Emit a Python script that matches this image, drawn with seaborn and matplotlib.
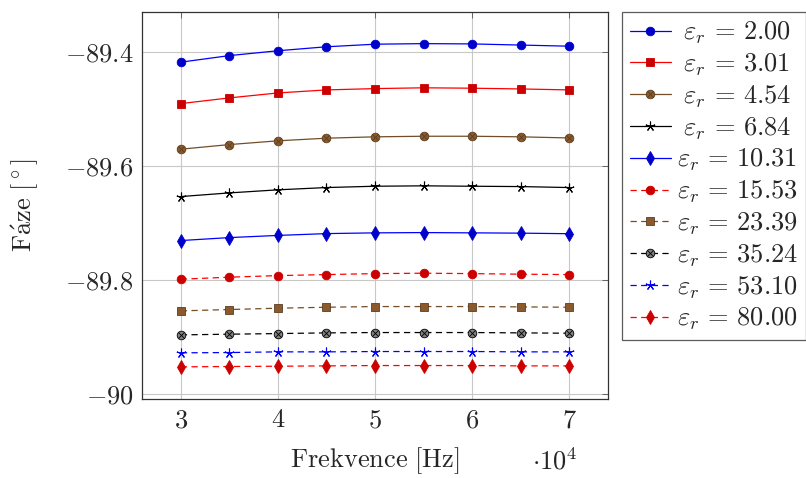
import numpy as np
import pandas as pd
import matplotlib
matplotlib.use("Agg")
import matplotlib.pyplot as plt
import seaborn as sns
from matplotlib.ticker import FuncFormatter, FixedLocator
from matplotlib.legend_handler import HandlerTuple

sns.set_style("white")
plt.rcParams["mathtext.fontset"] = "cm"
plt.rcParams["font.family"] = ["DejaVu Serif"]

freq = [30000, 35000, 40000, 45000, 50000, 55000, 60000, 65000, 70000]
eps_labels = ["2.00", "3.01", "4.54", "6.84", "10.31", "15.53", "23.39", "35.24", "53.10", "80.00"]

phase_2_00 = [-89.418, -89.4065, -89.398, -89.391, -89.3865, -89.3855, -89.386, -89.388, -89.390]
phase_3_01 = [-89.4907, -89.4807, -89.472, -89.4667, -89.4644, -89.463, -89.4637, -89.465, -89.4667]
phase_4_54 = [-89.5707, -89.5626, -89.556, -89.5514, -89.549, -89.548, -89.548, -89.549, -89.551]
phase_6_84 = [-89.6538, -89.6474, -89.642, -89.638, -89.6357, -89.635, -89.6357, -89.6363, -89.638]
phase_10_31 = [-89.731, -89.7258, -89.722, -89.7188, -89.7175, -89.717, -89.7175, -89.718, -89.719]
phase_15_53 = [-89.7988, -89.7953, -89.7925, -89.7907, -89.789, -89.7883, -89.789, -89.790, -89.7907]
phase_23_39 = [-89.8544, -89.852, -89.8497, -89.848, -89.8468, -89.8468, -89.8468, -89.8474, -89.848]
phase_35_24 = [-89.8965, -89.8953, -89.8942, -89.893, -89.8924, -89.8924, -89.8924, -89.893, -89.8936]
phase_53_10 = [-89.928, -89.9275, -89.9263, -89.9263, -89.9257, -89.9257, -89.9257, -89.9263, -89.9263]
phase_80_00 = [-89.9526, -89.952, -89.9515, -89.9509, -89.9503, -89.9503, -89.9503, -89.9509, -89.9509]

series = [phase_2_00, phase_3_01, phase_4_54, phase_6_84, phase_10_31,
          phase_15_53, phase_23_39, phase_35_24, phase_53_10, phase_80_00]

brown = "#734d26"
star = (5, 2, 0)
styles = [
    dict(color="#0000ff", marker="o", mfc="#0000cc", mec="#0000cc", ms=6.2, ls="-"),
    dict(color="#ff0000", marker="s", mfc="#cc0000", mec="#cc0000", ms=5.6, ls="-"),
    dict(color=brown, marker="o", mfc="#8a5a2e", mec="#5c3d1f", ms=6.2, ls="-", otimes=True),
    dict(color="#000000", marker=star, mfc="none", mec="#000000", ms=7, ls="-"),
    dict(color="#0000ff", marker="d", mfc="#0000cc", mec="#0000cc", ms=6.8, ls="-"),
    dict(color="#ff0000", marker="o", mfc="#cc0000", mec="#cc0000", ms=6.2, ls="--"),
    dict(color=brown, marker="s", mfc="#8a5a2e", mec="#5c3d1f", ms=5.6, ls="--"),
    dict(color="#000000", marker="o", mfc="#808080", mec="#000000", ms=6.2, ls="--", otimes=True),
    dict(color="#0000ff", marker=star, mfc="none", mec="#0000ff", ms=7, ls="--"),
    dict(color="#ff0000", marker="d", mfc="#cc0000", mec="#cc0000", ms=6.8, ls="--"),
]

W, H = 806, 478
fig = plt.figure(figsize=(W / 100, H / 100), dpi=100)
ax = fig.add_axes([142 / W, 1 - 399 / H, (608 - 142) / W, (399 - 12) / H])

handles = []
labels = []
for vals, lab, st in zip(series, eps_labels, styles):
    df = pd.DataFrame({"f": freq, "phi": vals})
    n_before = len(ax.lines)
    kw = dict(color=st["color"], marker=st["marker"], markerfacecolor=st["mfc"],
              markeredgecolor=st["mec"], markersize=st["ms"], linewidth=0.9,
              markeredgewidth=0.6 if st["marker"] != star else 0.8)
    if st["ls"] == "--":
        kw["dashes"] = (5, 3.5)
    sns.lineplot(data=df, x="f", y="phi", ax=ax, errorbar=None, sort=False, **kw)
    line = ax.lines[n_before]
    h = line
    if st.get("otimes"):
        xl, = ax.plot(freq, vals, linestyle="none", marker="x", markersize=st["ms"] * 0.6,
                      markeredgecolor=st["mec"], markeredgewidth=0.6)
        h = (line, xl)
    handles.append(h)
    pad = r"\;" if len(lab) == 4 else ""
    labels.append(r"$%s\varepsilon_r \,=\, %s$" % (pad, lab))

ax.set_xlim(26000, 74000)
ax.set_ylim(-90.009, -89.33)
ax.xaxis.set_major_locator(FixedLocator([30000, 40000, 50000, 60000, 70000]))
ax.yaxis.set_major_locator(FixedLocator([-90.0, -89.8, -89.6, -89.4]))
ax.xaxis.set_major_formatter(FuncFormatter(lambda v, p: r"$%g$" % (v / 1e4)))
ax.yaxis.set_major_formatter(FuncFormatter(lambda v, p: r"$%g$" % round(v, 1)))
ax.tick_params(axis="both", which="major", direction="in", length=4, width=0.6,
               color="#555555", top=True, right=True, labelsize=19, pad=6)
ax.grid(True, color="#c8c8c8", linewidth=0.8)
ax.set_axisbelow(True)
for s in ax.spines.values():
    s.set_color("#333333")
    s.set_linewidth(0.9)

ax.set_xlabel(r"$\mathrm{Frekvence\ [Hz]}$", fontsize=19, labelpad=9)
ax.set_ylabel(r"$\mathrm{F\acute{a}ze\ [{}^\circ]}$", fontsize=19, labelpad=17)
fig.text(555 / W, 1 - 461 / H, r"$\cdot 10^4$", fontsize=19, ha="center", va="center")

leg = fig.legend(handles, labels, loc="upper left",
                 bbox_to_anchor=(622 / W, 1 - 12 / H), bbox_transform=fig.transFigure,
                 borderaxespad=0, fontsize=19, frameon=True, fancybox=False,
                 handlelength=1.55, handletextpad=0.25, labelspacing=0.2,
                 borderpad=0.3, handler_map={tuple: HandlerTuple(ndivide=1)})
leg.get_frame().set_edgecolor("#333333")
leg.get_frame().set_linewidth(0.9)

fig.savefig("out.png", dpi=100)
